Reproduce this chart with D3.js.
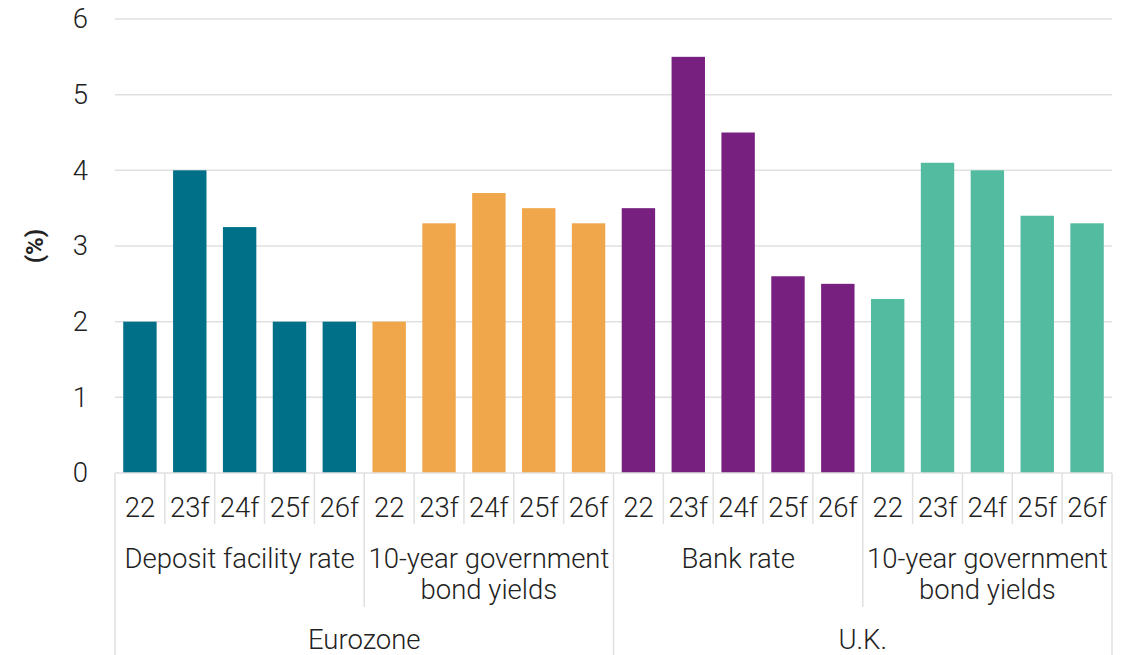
<!DOCTYPE html>
<html>
<head>
<meta charset="utf-8">
<script src="https://cdn.jsdelivr.net/npm/d3@7"></script>
<style>
  html, body { margin: 0; padding: 0; background: #fff; }
  svg text { font-family: Roboto, "Noto Sans", sans-serif; fill: #222; }
</style>
</head>
<body>
<svg id="chart" width="1132" height="655"></svg>
<script>
// Forecast years shown for each indicator
const years = ["22", "23f", "24f", "25f", "26f"];

// Indicator groups (label lines, region, colour)
const groups = [
  { key: "ez_dfr", lines: ["Deposit facility rate"], region: "Eurozone", color: "#006F88" },
  { key: "ez_10y", lines: ["10-year government", "bond yields"], region: "Eurozone", color: "#F0A64A" },
  { key: "uk_bank", lines: ["Bank rate"], region: "U.K.", color: "#782080" },
  { key: "uk_10y", lines: ["10-year government", "bond yields"], region: "U.K.", color: "#52BBA0" }
];

// Values (%) per indicator, by year
const ezDepositRate = [2.0, 4.0, 3.25, 2.0, 2.0];
const ezBondYields  = [2.0, 3.3, 3.7, 3.5, 3.3];
const ukBankRate    = [3.5, 5.5, 4.5, 2.6, 2.5];
const ukBondYields  = [2.3, 4.1, 4.0, 3.4, 3.3];

const regions = ["Eurozone", "U.K."];
const yTicks = [0, 1, 2, 3, 4, 5, 6];

const seriesValues = { ez_dfr: ezDepositRate, ez_10y: ezBondYields, uk_bank: ukBankRate, uk_10y: ukBondYields };

const data = [];
groups.forEach(g => {
  seriesValues[g.key].forEach((v, i) => {
    data.push({ id: g.key + "_" + years[i], group: g, year: years[i], value: v });
  });
});

const svg = d3.select("#chart");
const margin = { left: 115, right: 20, top: 19, bottom: 182 };
const W = 1132, H = 655;
const x0 = margin.left, x1 = W - margin.right;
const yBase = H - margin.bottom;
const fontSize = 27.5;

const x = d3.scaleBand().domain(data.map(d => d.id)).range([x0, x1]).paddingInner(0.33).paddingOuter(0.165);
const y = d3.scaleLinear().domain([0, 6]).range([yBase, margin.top]);

const lineColor = "#e0e0e0";

// Gridlines
svg.append("g").selectAll("line").data(yTicks.filter(t => t > 0)).join("line")
  .attr("x1", x0).attr("x2", x1)
  .attr("y1", d => y(d)).attr("y2", d => y(d))
  .attr("stroke", lineColor).attr("stroke-width", 1.5);

// Y axis labels
const yAxis = d3.axisLeft(y).tickValues(yTicks).tickSize(0).tickPadding(0).tickFormat(d3.format("d"));
const yg = svg.append("g").attr("transform", `translate(${x0 - 27},0)`).call(yAxis);
yg.select(".domain").remove();
yg.selectAll("text").attr("font-size", fontSize).attr("font-weight", 300).attr("fill", "#222")
  .style("font-family", "Roboto, sans-serif");

// Y axis title
svg.append("text")
  .attr("transform", `translate(43,${(margin.top + yBase) / 2}) rotate(-90)`)
  .attr("text-anchor", "middle")
  .attr("font-size", 24).attr("font-weight", 700)
  .text("(%)");

// Bars
svg.append("g").selectAll("rect").data(data).join("rect")
  .attr("x", d => x(d.id))
  .attr("width", x.bandwidth())
  .attr("y", d => y(d.value))
  .attr("height", d => y(0) - y(d.value))
  .attr("fill", d => d.group.color);

// Category axis baseline
svg.append("line").attr("x1", x0).attr("x2", x1).attr("y1", yBase).attr("y2", yBase)
  .attr("stroke", lineColor).attr("stroke-width", 1.5);

const step = x.step();
const cellLeft = id => x(id) - x.paddingOuter() * step;
const cellW = (x1 - x0) / data.length;

// Year separators
const yearRowBottom = yBase + 51;
const groupRowBottom = yBase + 134;
svg.append("g").selectAll("line").data(data.filter((d, i) => i % years.length !== 0)).join("line")
  .attr("x1", d => cellLeft(d.id)).attr("x2", d => cellLeft(d.id))
  .attr("y1", yBase).attr("y2", yearRowBottom)
  .attr("stroke", lineColor).attr("stroke-width", 1.5);

// Year labels
svg.append("g").selectAll("text").data(data).join("text")
  .attr("x", d => x(d.id) + x.bandwidth() / 2)
  .attr("y", yBase + 44)
  .attr("text-anchor", "middle")
  .attr("font-size", fontSize).attr("font-weight", 300)
  .text(d => d.year);

// Group separators (between indicators within a region)
const groupStart = gi => x0 + gi * years.length * cellW;
svg.append("g").selectAll("line").data(groups.map((g, gi) => gi).filter(gi => gi % 2 === 1)).join("line")
  .attr("x1", gi => groupStart(gi)).attr("x2", gi => groupStart(gi))
  .attr("y1", yBase).attr("y2", groupRowBottom)
  .attr("stroke", lineColor).attr("stroke-width", 1.5);

// Group labels
const gl = svg.append("g").selectAll("text").data(groups).join("text")
  .attr("text-anchor", "middle")
  .attr("font-size", fontSize).attr("font-weight", 300)
  .attr("transform", (g, gi) => `translate(${groupStart(gi) + years.length * cellW / 2},${yBase + 95})`);
gl.selectAll("tspan").data(g => g.lines).join("tspan")
  .attr("x", 0).attr("dy", (d, i) => i === 0 ? 0 : 31)
  .text(d => d);

// Region separators (full height of the category area)
const regionW = (x1 - x0) / regions.length;
svg.append("g").selectAll("line").data([0, 1, 2]).join("line")
  .attr("x1", i => x0 + i * regionW).attr("x2", i => x0 + i * regionW)
  .attr("y1", yBase).attr("y2", H)
  .attr("stroke", lineColor).attr("stroke-width", 1.5);

// Region labels
svg.append("g").selectAll("text").data(regions).join("text")
  .attr("x", (r, i) => x0 + (i + 0.5) * regionW)
  .attr("y", yBase + 176)
  .attr("text-anchor", "middle")
  .attr("font-size", fontSize).attr("font-weight", 300)
  .text(d => d);
</script>
</body>
</html>
